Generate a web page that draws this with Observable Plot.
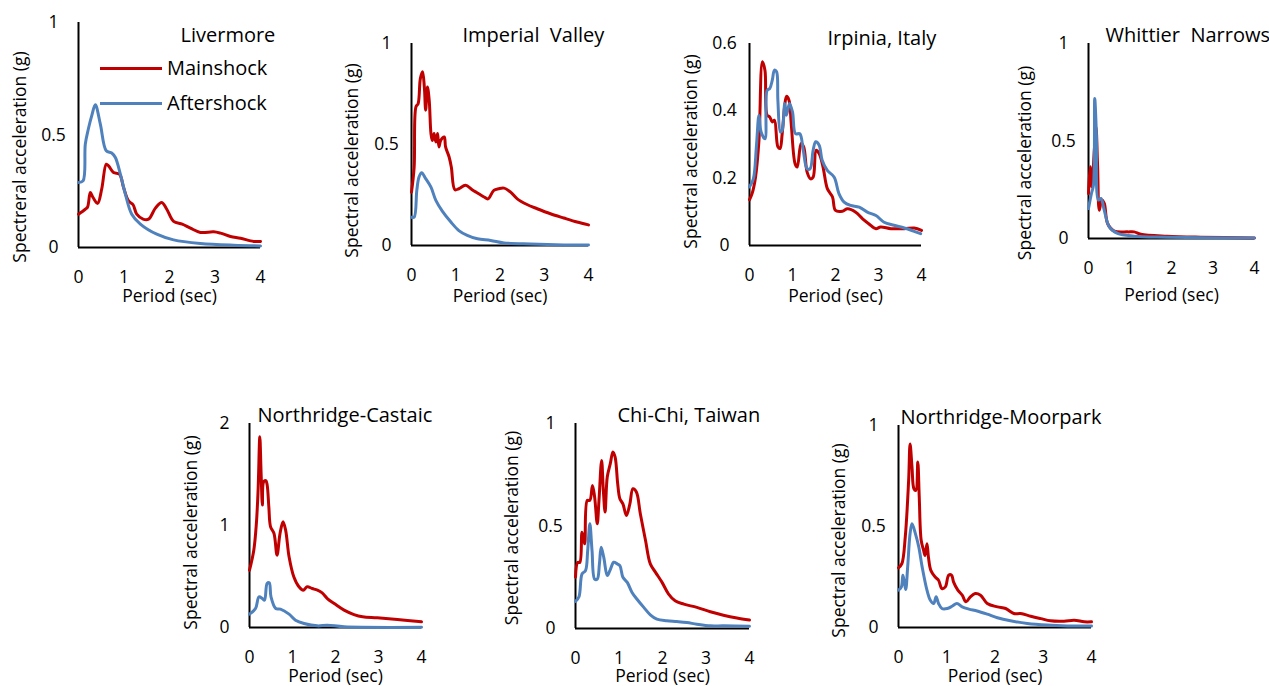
<!DOCTYPE html>
<html>
<head>
<meta charset="utf-8">
<script src="https://cdn.jsdelivr.net/npm/d3@7"></script>
<script src="https://cdn.jsdelivr.net/npm/@observablehq/plot@0.6"></script>
<style>
  html, body { margin: 0; padding: 0; background: #fff; }
  body { overflow: hidden; font-family: "Open Sans", sans-serif; }
  #fig { position: relative; width: 1269px; height: 686px; overflow: hidden; background: #fff; }
  .panel { position: absolute; }
  .panel svg { max-width: none !important; overflow: visible; }
  .legend { position: absolute; font-size: 20px; color: #000; }
  .legend .row { position: absolute; left: 0; white-space: nowrap; }
  .legend .sw { position: absolute; left: 0; height: 3px; width: 62px; }
  .legend .lb { position: absolute; left: 67px; line-height: 20px; }
</style>
</head>
<body>
<div id="fig"></div>
<script>
// Response spectra: [period (s), spectral acceleration (g)]
const livermoreMain = [[0,0.148],[0.15,0.17],[0.2,0.18],[0.26,0.244],[0.32,0.222],[0.42,0.196],[0.51,0.26],[0.61,0.37],[0.66,0.363],[0.77,0.333],[0.9,0.326],[0.99,0.267],[1.1,0.207],[1.2,0.19],[1.28,0.148],[1.42,0.126],[1.54,0.126],[1.69,0.175],[1.83,0.2],[1.94,0.17],[2.09,0.116],[2.28,0.104],[2.46,0.086],[2.68,0.067],[2.97,0.07],[3.12,0.064],[3.34,0.049],[3.56,0.041],[3.85,0.027],[4,0.027]];
const livermoreAfter = [[0,0.289],[0.1,0.296],[0.15,0.46],[0.22,0.53],[0.29,0.585],[0.37,0.634],[0.48,0.548],[0.61,0.43],[0.73,0.42],[0.81,0.4],[0.92,0.326],[1.03,0.237],[1.17,0.148],[1.36,0.104],[1.72,0.059],[2.09,0.034],[2.68,0.018],[3.41,0.01],[4,0.007]];

const imperialMain = [[0,0.264],[0.06,0.388],[0.1,0.686],[0.15,0.702],[0.2,0.826],[0.25,0.86],[0.29,0.785],[0.32,0.67],[0.36,0.785],[0.4,0.72],[0.44,0.554],[0.47,0.52],[0.51,0.554],[0.55,0.512],[0.59,0.554],[0.62,0.488],[0.66,0.52],[0.74,0.537],[0.77,0.488],[0.85,0.438],[0.9,0.388],[0.98,0.276],[1.07,0.281],[1.22,0.298],[1.37,0.276],[1.49,0.26],[1.64,0.24],[1.73,0.231],[1.86,0.273],[1.97,0.281],[2.09,0.284],[2.24,0.264],[2.39,0.231],[2.61,0.203],[2.84,0.182],[3.14,0.157],[3.44,0.136],[3.74,0.116],[4,0.102]];
const imperialAfter = [[0,0.14],[0.06,0.14],[0.12,0.273],[0.17,0.339],[0.23,0.36],[0.32,0.331],[0.44,0.289],[0.55,0.223],[0.7,0.169],[0.89,0.116],[1.07,0.074],[1.26,0.05],[1.49,0.033],[1.79,0.025],[2.09,0.013],[2.69,0.007],[3.44,0.003],[4,0.003]];

const irpiniaMain = [[0,0.136],[0.06,0.154],[0.14,0.203],[0.22,0.312],[0.3,0.546],[0.36,0.52],[0.41,0.387],[0.47,0.382],[0.53,0.367],[0.58,0.372],[0.66,0.293],[0.71,0.288],[0.76,0.332],[0.82,0.417],[0.86,0.443],[0.92,0.431],[0.97,0.362],[1.06,0.243],[1.11,0.233],[1.2,0.303],[1.26,0.293],[1.34,0.218],[1.42,0.198],[1.48,0.203],[1.55,0.283],[1.62,0.273],[1.71,0.233],[1.81,0.169],[1.93,0.144],[2.0,0.104],[2.16,0.102],[2.28,0.109],[2.47,0.099],[2.63,0.079],[2.78,0.064],[2.94,0.05],[3.05,0.055],[3.29,0.05],[3.6,0.05],[3.83,0.052],[4,0.045]];
const irpiniaAfter = [[0,0.174],[0.09,0.198],[0.16,0.293],[0.22,0.387],[0.27,0.337],[0.36,0.317],[0.41,0.461],[0.47,0.466],[0.53,0.491],[0.58,0.521],[0.63,0.516],[0.66,0.431],[0.72,0.337],[0.76,0.342],[0.82,0.422],[0.86,0.387],[0.93,0.422],[1.0,0.397],[1.07,0.332],[1.17,0.332],[1.25,0.283],[1.34,0.228],[1.41,0.228],[1.48,0.283],[1.54,0.308],[1.62,0.298],[1.69,0.253],[1.81,0.223],[1.97,0.203],[2.08,0.154],[2.2,0.129],[2.35,0.119],[2.55,0.114],[2.74,0.099],[2.94,0.089],[3.13,0.069],[3.36,0.06],[3.6,0.052],[3.83,0.042],[3.98,0.035]];

const whittierMain = [[0,0.23],[0.04,0.368],[0.08,0.265],[0.14,0.453],[0.18,0.573],[0.22,0.368],[0.26,0.145],[0.32,0.197],[0.38,0.18],[0.46,0.077],[0.62,0.038],[0.94,0.034],[1.1,0.034],[1.26,0.022],[1.9,0.012],[2.7,0.007],[4,0.003]];
const whittierAfter = [[0,0.154],[0.07,0.23],[0.12,0.274],[0.15,0.718],[0.19,0.538],[0.24,0.197],[0.3,0.205],[0.38,0.145],[0.5,0.06],[0.7,0.026],[1.1,0.012],[1.9,0.007],[4,0.002]];

const castaicMain = [[0,0.562],[0.1,0.758],[0.16,1.02],[0.2,1.35],[0.24,1.87],[0.27,1.51],[0.3,1.2],[0.33,1.43],[0.38,1.44],[0.41,1.4],[0.45,1.18],[0.49,0.987],[0.57,0.922],[0.64,0.709],[0.71,0.922],[0.78,1.036],[0.84,0.954],[0.92,0.693],[1.03,0.497],[1.15,0.399],[1.25,0.366],[1.34,0.399],[1.46,0.382],[1.58,0.366],[1.69,0.34],[1.81,0.284],[1.97,0.235],[2.2,0.17],[2.43,0.127],[2.63,0.105],[2.97,0.095],[3.44,0.078],[4,0.056]];
const castaicAfter = [[0,0.131],[0.14,0.186],[0.22,0.3],[0.3,0.284],[0.35,0.268],[0.41,0.431],[0.46,0.438],[0.5,0.3],[0.61,0.186],[0.72,0.18],[0.92,0.131],[1.07,0.072],[1.27,0.039],[1.58,0.016],[1.81,0.023],[2.2,0.007],[4,0.002]];

const chichiMain = [[0,0.25],[0.05,0.323],[0.1,0.323],[0.15,0.47],[0.21,0.413],[0.27,0.625],[0.33,0.625],[0.39,0.698],[0.44,0.641],[0.5,0.511],[0.54,0.625],[0.6,0.82],[0.64,0.674],[0.68,0.568],[0.73,0.739],[0.8,0.804],[0.86,0.861],[0.91,0.837],[0.97,0.706],[1.02,0.633],[1.09,0.608],[1.17,0.551],[1.25,0.608],[1.32,0.682],[1.4,0.666],[1.49,0.56],[1.61,0.429],[1.72,0.315],[1.84,0.274],[1.99,0.225],[2.14,0.168],[2.29,0.135],[2.49,0.119],[2.79,0.103],[3.1,0.082],[3.4,0.065],[3.71,0.051],[4,0.041]];
const chichiAfter = [[0,0.132],[0.08,0.155],[0.15,0.266],[0.23,0.282],[0.28,0.38],[0.33,0.511],[0.38,0.38],[0.44,0.241],[0.5,0.241],[0.55,0.315],[0.59,0.396],[0.65,0.347],[0.73,0.258],[0.79,0.282],[0.88,0.323],[0.96,0.315],[1.02,0.307],[1.09,0.25],[1.19,0.225],[1.3,0.176],[1.41,0.144],[1.57,0.103],[1.72,0.067],[1.87,0.046],[2.1,0.038],[2.33,0.034],[2.56,0.029],[2.79,0.021],[3.1,0.013],[3.4,0.013],[4,0.011]];

const moorparkMain = [[0,0.295],[0.07,0.316],[0.14,0.448],[0.21,0.728],[0.24,0.909],[0.28,0.794],[0.32,0.687],[0.36,0.679],[0.4,0.819],[0.43,0.646],[0.47,0.432],[0.52,0.382],[0.55,0.357],[0.59,0.415],[0.62,0.349],[0.67,0.283],[0.76,0.25],[0.83,0.234],[0.9,0.193],[0.97,0.201],[1.04,0.259],[1.1,0.259],[1.14,0.226],[1.23,0.185],[1.32,0.16],[1.4,0.127],[1.49,0.152],[1.59,0.168],[1.7,0.16],[1.84,0.119],[2.05,0.102],[2.22,0.094],[2.39,0.069],[2.53,0.069],[2.74,0.056],[2.95,0.044],[3.15,0.033],[3.43,0.031],[3.64,0.036],[3.85,0.028],[4,0.028]];
const moorparkAfter = [[0,0.185],[0.06,0.201],[0.09,0.259],[0.12,0.226],[0.15,0.188],[0.19,0.3],[0.24,0.465],[0.28,0.514],[0.35,0.465],[0.42,0.399],[0.49,0.3],[0.59,0.185],[0.66,0.135],[0.73,0.119],[0.78,0.152],[0.83,0.119],[0.9,0.094],[1.01,0.094],[1.11,0.105],[1.21,0.119],[1.32,0.102],[1.46,0.091],[1.63,0.082],[1.84,0.066],[2.05,0.048],[2.32,0.033],[2.67,0.02],[3.08,0.012],[3.5,0.008],[4,0.007]];

// Axis ticks and labels
const periodTicks = [0, 1, 2, 3, 4];
const xLabel = "Period (sec)";
const yLabel = "Spectral acceleration (g)";
const yLabelFirst = "Spectreral acceleration (g)";
const seriesNames = ["Mainshock", "Aftershock"];

const MAIN_COLOR = "#C00000";
const AFTER_COLOR = "#4F81BD";
const FONT = "'Open Sans', sans-serif";
const LABEL_SIZE = 17.5;

// Panel layout: frame edges in page pixels, title, x-label and y-label offsets
const panels = [
  {title: "Livermore", main: livermoreMain, after: livermoreAfter, yMax: 1, yTicks: [0, 0.5, 1], yLab: yLabelFirst,
   x0: 78, x4: 260, y0: 247, yTop: 22, tdx: 102, tdy: 13, ldx: -58, ldy: 22, xdy: 49},
  {title: "Imperial  Valley", main: imperialMain, after: imperialAfter, yMax: 1, yTicks: [0, 0.5, 1], yLab: yLabel,
   x0: 411, x4: 588, y0: 245, yTop: 43, tdx: 51, tdy: -8, ldx: -59, ldy: 16, xdy: 51},
  {title: "Irpinia, Italy", main: irpiniaMain, after: irpiniaAfter, yMax: 0.6, yTicks: [0, 0.2, 0.4, 0.6], yLab: yLabel,
   x0: 749, x4: 921, y0: 245, yTop: 43, tdx: 78, tdy: -5, ldx: -58, ldy: 7, xdy: 51},
  {title: "Whittier  Narrows", main: whittierMain, after: whittierAfter, yMax: 1, yTicks: [0, 0.5, 1], yLab: yLabel,
   x0: 1088, x4: 1254, y0: 238, yTop: 43, tdx: 17, tdy: -8, ldx: -63, ldy: 22, xdy: 57},
  {title: "Northridge-Castaic", main: castaicMain, after: castaicAfter, yMax: 2, yTicks: [0, 1, 2], yLab: yLabel,
   x0: 249, x4: 421, y0: 627, yTop: 423, tdx: 8, tdy: -8, ldx: -58, ldy: 7, xdy: 49},
  {title: "Chi-Chi, Taiwan", main: chichiMain, after: chichiAfter, yMax: 1, yTicks: [0, 0.5, 1], yLab: yLabel,
   x0: 575, x4: 749, y0: 628, yTop: 423, tdx: 42, tdy: -8, ldx: -63, ldy: 2, xdy: 48},
  {title: "Northridge-Moorpark", main: moorparkMain, after: moorparkAfter, yMax: 1, yTicks: [0, 0.5, 1], yLab: yLabel,
   x0: 898, x4: 1091, y0: 627, yTop: 425, tdx: 2, tdy: -8, ldx: -59, ldy: 14, xdy: 49}
];

const fig = document.getElementById("fig");
const ML = 80, MT = 45, MR = 40, MB = 62;

for (const p of panels) {
  const width = (p.x4 - p.x0) + ML + MR;
  const height = (p.y0 - p.yTop) + MT + MB;
  const chart = Plot.plot({
    width, height,
    marginLeft: ML, marginTop: MT, marginRight: MR, marginBottom: MB,
    x: {domain: [0, 4]},
    y: {domain: [0, p.yMax]},
    style: {fontFamily: FONT, fontSize: LABEL_SIZE + "px", color: "#000", background: "transparent", overflow: "visible", maxWidth: "none"},
    marks: [
      Plot.axisX({ticks: periodTicks, tickSize: 0, tickPadding: 23, tickFormat: d => String(d), label: null, fill: "#000", fontSize: LABEL_SIZE}),
      Plot.axisY({ticks: p.yTicks, tickSize: 0, tickPadding: 25, textAnchor: "middle", tickFormat: d => String(d), label: null, fill: "#000", fontSize: LABEL_SIZE}),
      Plot.text([xLabel], {frameAnchor: "bottom", lineAnchor: "middle", textAnchor: "middle", dy: p.xdy, fontSize: LABEL_SIZE, fill: "#000"}),
      Plot.text([p.yLab], {frameAnchor: "left", lineAnchor: "middle", textAnchor: "middle", rotate: -90, dx: p.ldx, dy: p.ldy, fontSize: LABEL_SIZE, fill: "#000"}),
      Plot.ruleX([0], {stroke: "#000", strokeWidth: 2}),
      Plot.ruleY([0], {stroke: "#000", strokeWidth: 2}),
      Plot.line(p.main, {x: d => d[0], y: d => d[1], stroke: MAIN_COLOR, strokeWidth: 3, curve: "catmull-rom"}),
      Plot.line(p.after, {x: d => d[0], y: d => d[1], stroke: AFTER_COLOR, strokeWidth: 3, curve: "catmull-rom"}),
      Plot.text([p.title], {frameAnchor: "top-left", lineAnchor: "middle", textAnchor: "start", dx: p.tdx, dy: p.tdy, fontSize: 20, fill: "#000"})
    ]
  });
  chart.style.maxWidth = "none";
  const holder = document.createElement("div");
  holder.className = "panel";
  holder.style.left = (p.x0 - ML) + "px";
  holder.style.top = (p.yTop - MT) + "px";
  holder.style.width = width + "px";
  holder.style.height = height + "px";
  holder.appendChild(chart);
  fig.appendChild(holder);
}

// Series key inside the first panel
const legend = document.createElement("div");
legend.className = "legend";
legend.style.left = "100px";
legend.style.top = "57px";
[[seriesNames[0], MAIN_COLOR, 0], [seriesNames[1], AFTER_COLOR, 35]].forEach(([name, color, off]) => {
  const row = document.createElement("div");
  row.className = "row";
  row.style.top = off + "px";
  row.innerHTML = `<div class="sw" style="background:${color};top:10px"></div><div class="lb" style="top:1px">${name}</div>`;
  legend.appendChild(row);
});
fig.appendChild(legend);
</script>
</body>
</html>
